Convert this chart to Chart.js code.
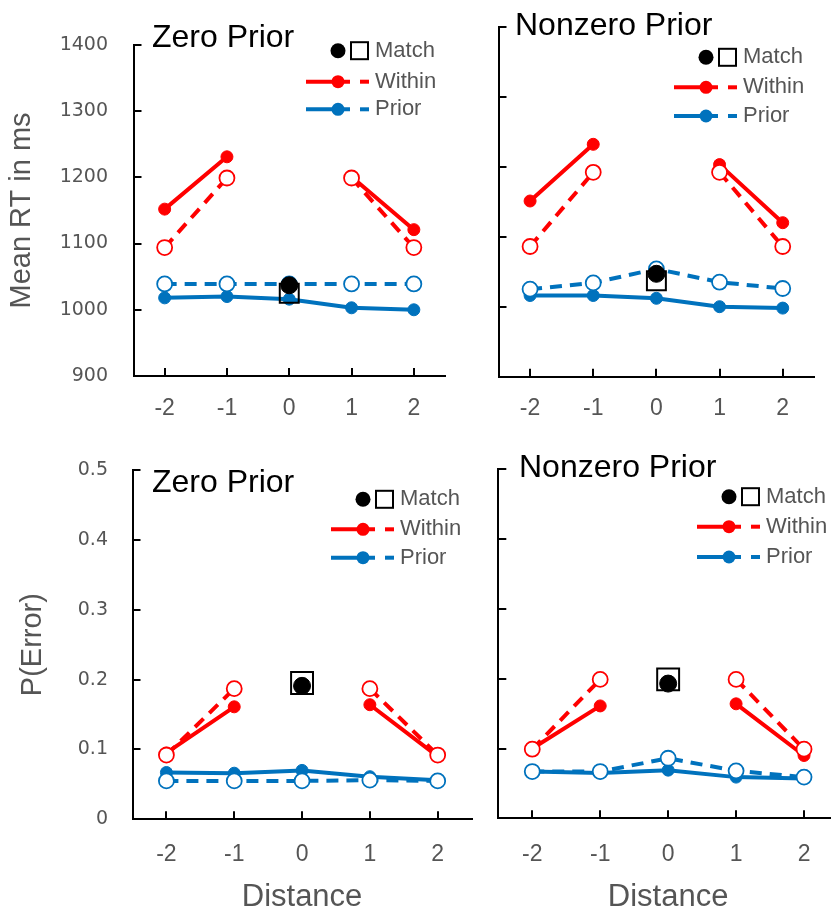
<!DOCTYPE html>
<html>
<head>
<meta charset="utf-8">
<script src="https://cdn.jsdelivr.net/npm/chart.js@4/dist/chart.umd.min.js"></script>
<style>
html, body { margin: 0; padding: 0; overflow: hidden; background: #ffffff; width: 831px; height: 914px; }
canvas { position: absolute; left: 0; top: 0; }
</style>
</head>
<body>
<canvas id="pTL"></canvas>
<canvas id="pTR"></canvas>
<canvas id="pBL"></canvas>
<canvas id="pBR"></canvas>
<script>
// ---------------- DATA ----------------
const distances = ['-2', '-1', '0', '1', '2'];

const rtTickValues = [900, 1000, 1100, 1200, 1300, 1400];
const rtTickLabels = ['900', '1000', '1100', '1200', '1300', '1400'];
const errTickValues = [0, 0.1, 0.2, 0.3, 0.4, 0.5];
const errTickLabels = ['0', '0.1', '0.2', '0.3', '0.4', '0.5'];

const seriesNames = ['Match', 'Within', 'Prior'];
const panelTitles = ['Zero Prior', 'Nonzero Prior', 'Zero Prior', 'Nonzero Prior'];
const yAxisTitles = ['Mean RT in ms', 'P(Error)'];
const xAxisTitle = 'Distance';

// Mean RT, zero prior
const rtZeroWithinSolid  = [1152, 1231, null, 1201, 1121];
const rtZeroWithinDashed = [1094, 1199, null, 1199, 1094];
const rtZeroPriorSolid   = [1018, 1020, 1016, 1003, 1000];
const rtZeroPriorDashed  = [1039, 1039, 1039, 1039, 1039];
const rtZeroMatchFilled  = [null, null, 1037, null, null];
const rtZeroMatchOpen    = [null, null, 1025, null, null];

// Mean RT, nonzero prior
const rtNonzeroWithinSolid  = [1151, 1232, null, 1203, 1120];
const rtNonzeroWithinDashed = [1086, 1192, null, 1192, 1086];
const rtNonzeroPriorSolid   = [1016, 1016, 1012, 1000, 998];
const rtNonzeroPriorDashed  = [1025, 1034, 1054, 1035, 1026];
const rtNonzeroMatchFilled  = [null, null, 1047, null, null];
const rtNonzeroMatchOpen    = [null, null, 1037, null, null];

// P(Error), zero prior
const errZeroWithinSolid  = [0.095, 0.161, null, 0.164, 0.090];
const errZeroWithinDashed = [0.092, 0.187, null, 0.187, 0.092];
const errZeroPriorSolid   = [0.067, 0.066, 0.070, 0.061, 0.056];
const errZeroPriorDashed  = [0.055, 0.055, 0.055, 0.056, 0.055];
const errZeroMatchFilled  = [null, null, 0.191, null, null];
const errZeroMatchOpen    = [null, null, 0.195, null, null];

// P(Error), nonzero prior
const errNonzeroWithinSolid  = [0.100, 0.161, null, 0.164, 0.090];
const errNonzeroWithinDashed = [0.099, 0.199, null, 0.199, 0.099];
const errNonzeroPriorSolid   = [0.067, 0.065, 0.069, 0.059, 0.057];
const errNonzeroPriorDashed  = [0.067, 0.067, 0.086, 0.068, 0.059];
const errNonzeroMatchFilled  = [null, null, 0.193, null, null];
const errNonzeroMatchOpen    = [null, null, 0.199, null, null];

// ---------------- STYLE ----------------
const W = 880, H = 940;
const RED = '#ff0000', BLUE = '#0072bd', GRAY = '#555555', BLACK = '#000000';
const SANS = '"Liberation Sans", Arial, Helvetica, sans-serif';
const NARROW = '"Liberation Sans Narrow", "Liberation Sans", Arial, sans-serif';
const WIDE = '"DejaVu Sans", Verdana, sans-serif';

function lineDs(label, data, color, dashed) {
  return {
    label: label,
    data: data,
    borderColor: color,
    borderWidth: 4,
    borderDash: dashed ? [12, 8] : [],
    borderCapStyle: 'butt',
    pointStyle: 'circle',
    pointRadius: dashed ? 7.5 : 6,
    pointBackgroundColor: dashed ? '#ffffff' : color,
    pointBorderColor: color,
    pointBorderWidth: dashed ? 1.8 : 1,
    spanGaps: false,
    tension: 0,
    fill: false
  };
}
function matchFilledDs(data) {
  return { label: 'Match', data: data, showLine: false, pointStyle: 'circle', pointRadius: 8.5,
           pointBackgroundColor: BLACK, pointBorderColor: BLACK, pointBorderWidth: 1 };
}
function matchOpenDs(data, r) {
  return { label: 'Match', data: data, showLine: false, pointStyle: 'rect', pointRadius: r,
           pointBackgroundColor: 'rgba(0,0,0,0)', pointBorderColor: BLACK, pointBorderWidth: 2 };
}

function decorPlugin(p) {
  return {
    id: 'decor',
    afterDraw(chart) {
      const ctx = chart.ctx;
      ctx.save();
      // panel title
      ctx.font = '32px ' + SANS;
      ctx.fillStyle = BLACK;
      ctx.textAlign = 'left';
      ctx.textBaseline = 'alphabetic';
      ctx.fillText(p.title, p.titleX, p.titleY);
      // legend
      const tx = p.legX, ys = p.legY;
      ctx.font = '22px ' + SANS;
      ctx.fillStyle = GRAY;
      ctx.textBaseline = 'middle';
      ctx.fillText(seriesNames[0], tx, ys[0]);
      ctx.fillText(seriesNames[1], tx, ys[1]);
      ctx.fillText(seriesNames[2], tx, ys[2]);
      // match symbols
      ctx.beginPath();
      ctx.arc(tx - 37, ys[0], 7.5, 0, Math.PI * 2);
      ctx.fillStyle = BLACK;
      ctx.fill();
      ctx.lineWidth = 2;
      ctx.strokeStyle = BLACK;
      ctx.strokeRect(tx - 24, ys[0] - 8.5, 17, 17);
      // line symbols
      [[RED, ys[1]], [BLUE, ys[2]]].forEach(([c, y]) => {
        ctx.strokeStyle = c;
        ctx.fillStyle = c;
        ctx.lineWidth = 4;
        ctx.lineCap = 'butt';
        ctx.beginPath();
        ctx.moveTo(tx - 69, y); ctx.lineTo(tx - 25, y);
        ctx.stroke();
        ctx.beginPath();
        ctx.moveTo(tx - 15, y); ctx.lineTo(tx - 6, y);
        ctx.stroke();
        ctx.beginPath();
        ctx.arc(tx - 37, y, 6.5, 0, Math.PI * 2);
        ctx.fill();
      });
      ctx.restore();
    }
  };
}

function makePanel(id, p) {
  const cv = document.getElementById(id);
  cv.width = W; cv.height = H;
  cv.style.width = W + 'px'; cv.style.height = H + 'px';
  return new Chart(cv, {
    type: 'line',
    data: {
      labels: distances,
      datasets: [
        matchFilledDs(p.matchFilled),
        matchOpenDs(p.matchOpen, p.squareR),
        lineDs('Within', p.withinDashed, RED, true),
        lineDs('Prior', p.priorDashed, BLUE, true),
        lineDs('Within', p.withinSolid, RED, false),
        lineDs('Prior', p.priorSolid, BLUE, false)
      ]
    },
    options: {
      responsive: false,
      animation: false,
      devicePixelRatio: 1,
      layout: { padding: { left: 0, top: p.area.t, right: W - p.area.r, bottom: 0 } },
      plugins: { legend: { display: false }, tooltip: { enabled: false }, title: { display: false } },
      scales: {
        x: {
          type: 'category',
          offset: true,
          grid: { drawOnChartArea: false, drawTicks: true, tickLength: -8, color: BLACK, lineWidth: 2, offset: false },
          border: { display: true, color: BLACK, width: 2 },
          ticks: { color: GRAY, font: { family: SANS, size: 23 }, padding: p.xTickPad, maxRotation: 0, autoSkip: false },
          title: { display: p.showXTitle, text: xAxisTitle, color: GRAY,
                   font: { family: SANS, size: 31 }, padding: { top: 0, bottom: 24 } },
          afterFit(s) { s.height = H - p.area.b; }
        },
        y: {
          type: 'linear',
          min: p.yMin, max: p.yMax,
          afterBuildTicks(s) { s.ticks = p.tickValues.map(v => ({ value: v })); },
          grid: { drawOnChartArea: false, drawTicks: true, tickLength: -8, color: BLACK, lineWidth: 2 },
          border: { display: true, color: BLACK, width: 2 },
          ticks: { display: p.showYLabels, color: GRAY, font: { family: WIDE, size: 19 },
                   padding: p.area.l - 108 + 8, callback: (v, i) => p.tickLabels[i] },
          title: { display: !!p.yTitle, text: p.yTitle || '', color: GRAY,
                   font: { family: NARROW, size: 29 }, padding: { top: p.yTitlePad || 0, bottom: 0 } },
          afterFit(s) { s.width = p.area.l; }
        }
      }
    },
    plugins: [decorPlugin(p)]
  });
}

makePanel('pTL', {
  area: { l: 133.5, t: 19.5, r: 445, b: 376 },
  yMin: 900, yMax: 1400, tickValues: rtTickValues, tickLabels: rtTickLabels,
  showYLabels: true, yTitle: yAxisTitles[0], yTitlePad: 5, showXTitle: false, xTickPad: 27,
  withinSolid: rtZeroWithinSolid, withinDashed: rtZeroWithinDashed,
  priorSolid: rtZeroPriorSolid, priorDashed: rtZeroPriorDashed,
  matchFilled: rtZeroMatchFilled, matchOpen: rtZeroMatchOpen, squareR: 13.4,
  title: panelTitles[0], titleX: 152, titleY: 46.7,
  legX: 375, legY: [50.7, 81.7, 109.3]
});
makePanel('pTR', {
  area: { l: 498.5, t: 26.7, r: 814.3, b: 376.7 },
  yMin: 900, yMax: 1400, tickValues: rtTickValues, tickLabels: rtTickLabels,
  showYLabels: false, yTitle: null, showXTitle: false, xTickPad: 26.5,
  withinSolid: rtNonzeroWithinSolid, withinDashed: rtNonzeroWithinDashed,
  priorSolid: rtNonzeroPriorSolid, priorDashed: rtNonzeroPriorDashed,
  matchFilled: rtNonzeroMatchFilled, matchOpen: rtNonzeroMatchOpen, squareR: 13.4,
  title: panelTitles[1], titleX: 515, titleY: 35,
  legX: 743, legY: [57.3, 87.3, 116]
});
makePanel('pBL', {
  area: { l: 132.5, t: 470, r: 471.6, b: 819.3 },
  yMin: 0, yMax: 0.5, tickValues: errTickValues, tickLabels: errTickLabels,
  showYLabels: true, yTitle: yAxisTitles[1], yTitlePad: 16, showXTitle: true, xTickPad: 30,
  withinSolid: errZeroWithinSolid, withinDashed: errZeroWithinDashed,
  priorSolid: errZeroPriorSolid, priorDashed: errZeroPriorDashed,
  matchFilled: errZeroMatchFilled, matchOpen: errZeroMatchOpen, squareR: 15.5,
  title: panelTitles[2], titleX: 152, titleY: 491.7,
  legX: 400, legY: [499.3, 529.3, 557.7]
});
makePanel('pBR', {
  area: { l: 498.3, t: 469.3, r: 838, b: 818.3 },
  yMin: 0, yMax: 0.5, tickValues: errTickValues, tickLabels: errTickLabels,
  showYLabels: false, yTitle: null, showXTitle: true, xTickPad: 31,
  withinSolid: errNonzeroWithinSolid, withinDashed: errNonzeroWithinDashed,
  priorSolid: errNonzeroPriorSolid, priorDashed: errNonzeroPriorDashed,
  matchFilled: errNonzeroMatchFilled, matchOpen: errNonzeroMatchOpen, squareR: 15.5,
  title: panelTitles[3], titleX: 519, titleY: 476.7,
  legX: 766, legY: [496.7, 526.7, 557]
});
</script>
</body>
</html>
